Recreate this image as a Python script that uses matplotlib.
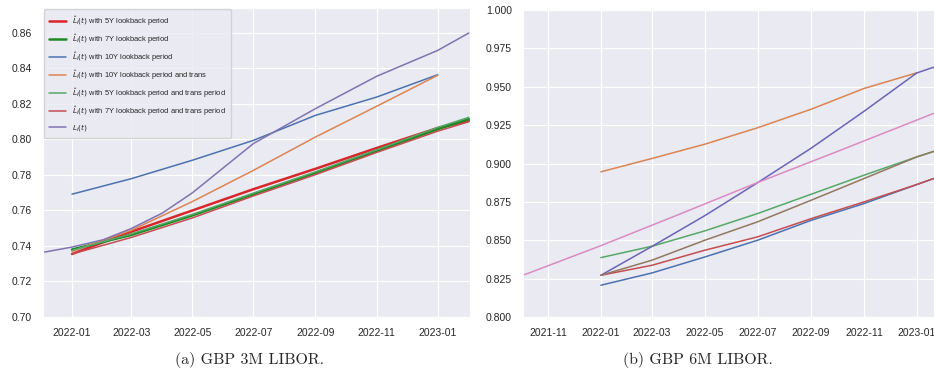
import pandas as pd
import matplotlib.pyplot as plt
import matplotlib.dates as mdates
import matplotlib.ticker as mticker
import seaborn as sns

sns.set_style('darkgrid')
plt.rcParams['font.family'] = ['Liberation Sans', 'DejaVu Sans']
plt.rcParams['mathtext.fontset'] = 'dejavusans'

# ---------- GBP 3M LIBOR ----------
dates_3m = pd.to_datetime(['2022-01-01', '2022-03-01', '2022-05-01', '2022-07-01',
                           '2022-09-01', '2022-11-01', '2023-01-01', '2023-02-01'])
dates_3m_10y = dates_3m[:-1]
dates_3m_true = pd.to_datetime(['2021-12-03', '2022-01-01', '2022-02-01', '2022-03-01',
                                '2022-04-01', '2022-05-01', '2022-07-01', '2022-09-01',
                                '2022-11-01', '2023-01-01', '2023-02-01'])

l3_5y = [0.7355, 0.7480, 0.7600, 0.7720, 0.7835, 0.7952, 0.8065, 0.8105]
l3_7y = [0.7380, 0.7462, 0.7572, 0.7692, 0.7812, 0.7936, 0.8058, 0.8115]
l3_10y = [0.7692, 0.7779, 0.7883, 0.7995, 0.8136, 0.8239, 0.8365]
l3_10y_trans = [0.7370, 0.7488, 0.7650, 0.7826, 0.8014, 0.8187, 0.8362]
l3_5y_trans = [0.7375, 0.7468, 0.7578, 0.7698, 0.7818, 0.7942, 0.8068, 0.8125]
l3_7y_trans = [0.7355, 0.7448, 0.7558, 0.7682, 0.7802, 0.7927, 0.8047, 0.8100]
l3_true = [0.7364, 0.7394, 0.7435, 0.7498, 0.7585, 0.7699, 0.7977, 0.8174,
           0.8356, 0.8502, 0.8600]

labels_3m = [r'$\hat{L}_i(t)$ with 5Y lookback period',
             r'$\hat{L}_i(t)$ with 7Y lookback period',
             r'$\hat{L}_i(t)$ with 10Y lookback period',
             r'$\hat{L}_i(t)$ with 10Y lookback period and trans',
             r'$\hat{L}_i(t)$ with 5Y lookback period and trans period',
             r'$\hat{L}_i(t)$ with 7Y lookback period and trans period',
             r'$L_i(t)$']

# ---------- GBP 6M LIBOR ----------
dates_6m = dates_3m
dates_6m_10y = dates_3m_10y
dates_6m_true = pd.to_datetime(['2021-10-03', '2022-01-01', '2022-04-01', '2022-07-01',
                                '2022-10-01', '2023-01-01', '2023-02-01'])

l6_blue = [0.8207, 0.8287, 0.8391, 0.8500, 0.8630, 0.8739, 0.8863, 0.8925]
l6_orange = [0.8946, 0.9033, 0.9126, 0.9233, 0.9354, 0.9489, 0.9591]
l6_green = [0.8387, 0.8461, 0.8561, 0.8674, 0.8800, 0.8924, 0.9043, 0.9100]
l6_red = [0.8272, 0.8337, 0.8435, 0.8522, 0.8641, 0.8750, 0.8863, 0.8925]
l6_purple = [0.8272, 0.8460, 0.8660, 0.8875, 0.9100, 0.9340, 0.9590, 0.9650]
l6_brown = [0.8272, 0.8370, 0.8500, 0.8620, 0.8761, 0.8902, 0.9043, 0.9100]
l6_pink = [0.8272, 0.8465, 0.8668, 0.8876, 0.9078, 0.9283, 0.9352]

fig = plt.figure(figsize=(9.34, 3.88), dpi=100)
ax1 = fig.add_axes([0.046, 0.183, 0.457, 0.796])
ax2 = fig.add_axes([0.560, 0.183, 0.440, 0.791])

ax1.plot(dates_3m, l3_5y, color='#d8262b', lw=1.8, label=labels_3m[0])
ax1.plot(dates_3m, l3_7y, color='#1f8a24', lw=1.8, label=labels_3m[1])
ax1.plot(dates_3m_10y, l3_10y, color='#4c72b0', lw=1.1, label=labels_3m[2])
ax1.plot(dates_3m_10y, l3_10y_trans, color='#dd8452', lw=1.1, label=labels_3m[3])
ax1.plot(dates_3m, l3_5y_trans, color='#55a868', lw=1.1, label=labels_3m[4])
ax1.plot(dates_3m, l3_7y_trans, color='#c44e52', lw=1.1, label=labels_3m[5])
ax1.plot(dates_3m_true, l3_true, color='#8172b3', lw=1.1, label=labels_3m[6])

ax1.set_xlim(pd.Timestamp('2021-12-03'), pd.Timestamp('2023-02-02'))
ax1.set_ylim(0.70, 0.874)
ax1.yaxis.set_major_locator(mticker.MultipleLocator(0.02))
ax1.yaxis.set_major_formatter(mticker.FormatStrFormatter('%.2f'))
ax1.legend(loc='upper left', fontsize=5.4, labelspacing=0.6, handlelength=2.2,
           borderaxespad=0.15, borderpad=0.7, framealpha=0.8)

ax2.plot(dates_6m, l6_blue, color='#4c72b0', lw=1.1)
ax2.plot(dates_6m_10y, l6_orange, color='#dd8452', lw=1.1)
ax2.plot(dates_6m, l6_green, color='#55a868', lw=1.1)
ax2.plot(dates_6m, l6_red, color='#c44e52', lw=1.1)
ax2.plot(dates_6m, l6_purple, color='#6a64b8', lw=1.1)
ax2.plot(dates_6m, l6_brown, color='#937860', lw=1.1)
ax2.plot(dates_6m_true, l6_pink, color='#da8bc3', lw=1.1)

ax2.set_xlim(pd.Timestamp('2021-10-03'), pd.Timestamp('2023-01-21'))
ax2.set_ylim(0.80, 1.0)
ax2.yaxis.set_major_locator(mticker.MultipleLocator(0.025))
ax2.yaxis.set_major_formatter(mticker.FormatStrFormatter('%.3f'))

for ax in (ax1, ax2):
    ax.xaxis.set_major_locator(mdates.MonthLocator(bymonth=[1, 3, 5, 7, 9, 11]))
    ax.xaxis.set_major_formatter(mdates.DateFormatter('%Y-%m'))
    ax.tick_params(axis='x', length=0, pad=8, labelsize=7.5, colors='#262626')
    ax.tick_params(axis='y', length=0, pad=8, labelsize=7.5, colors='#262626')

fig.text(250 / 934, 1 - 360 / 388, '(a) GBP 3M LIBOR.', family='cmr10', fontsize=11.5,
         ha='center', va='center')
fig.text(698 / 934, 1 - 360 / 388, '(b) GBP 6M LIBOR.', family='cmr10', fontsize=11.5,
         ha='center', va='center')

plt.savefig('out.png', dpi=100)
plt.close()
